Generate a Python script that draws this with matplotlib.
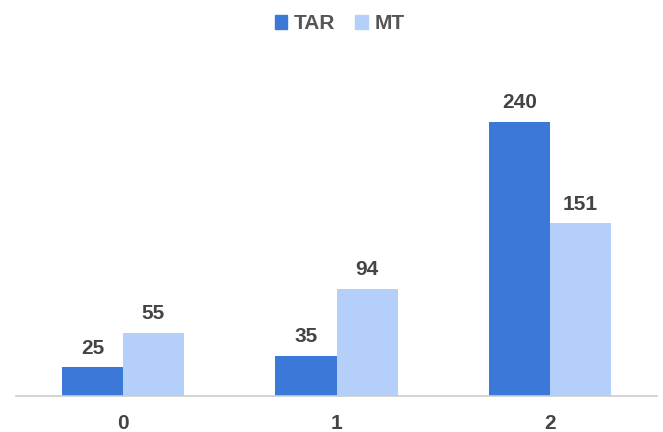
import numpy as np
import matplotlib.pyplot as plt
from matplotlib.patches import Patch

plt.rcParams["font.family"] = ["Liberation Sans", "DejaVu Sans"]

categories = ["0", "1", "2"]
tar = [25, 35, 240]
mt = [55, 94, 151]

fig = plt.figure(figsize=(6.63, 4.32), dpi=100)
ax = fig.add_axes([16.25 / 663, 36 / 432, 640.5 / 663, 320 / 432])

x = np.arange(len(categories))
w = 0.286
b1 = ax.bar(x - w / 2, tar, w, color="#3c78d8", label="TAR")
b2 = ax.bar(x + w / 2, mt, w, color="#b4cffa", label="MT")

for bars in (b1, b2):
    for r in bars:
        ax.annotate(f"{int(r.get_height())}", (r.get_x() + r.get_width() / 2, r.get_height()),
                    xytext=(0, 7), textcoords="offset points", ha="center", va="bottom",
                    fontsize=15, fontweight="bold", color="#444444")

ax.set_xlim(-0.5, 2.5)
ax.set_ylim(0, 280)
ax.set_xticks(x)
ax.set_xticklabels(categories, fontsize=15, fontweight="bold", color="#444444")
ax.tick_params(axis="x", length=0, pad=13)
ax.set_yticks([])
for s in ["top", "right", "left"]:
    ax.spines[s].set_visible(False)
ax.spines["bottom"].set_color("#cccccc")
ax.spines["bottom"].set_linewidth(1.2)

handles = [Patch(color="#3c78d8", label="TAR"), Patch(color="#b4cffa", label="MT")]
fig.legend(handles=handles, loc="upper center", bbox_to_anchor=(0.512, 1.01), ncol=2,
           frameon=False, handlelength=0.6, handleheight=0.6, handletextpad=0.3,
           columnspacing=1.0, prop={"size": 15, "weight": "bold"}, labelcolor="#555555")

fig.savefig("out.png", dpi=100)
